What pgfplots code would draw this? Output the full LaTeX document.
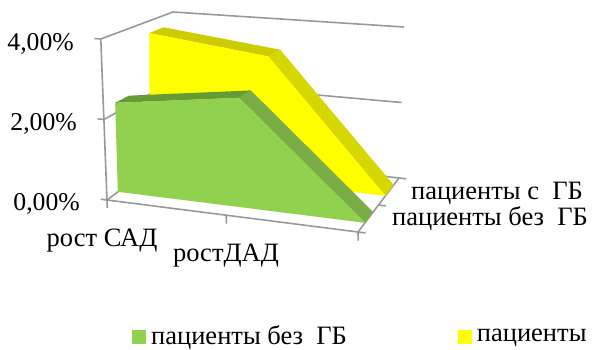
\documentclass[border=0pt]{standalone}
\usepackage{fontspec}
\setmainfont{Liberation Serif}
\usepackage{pgfplots}
\pgfplotsset{compat=1.18}
\definecolor{grn}{HTML}{92D050}
\definecolor{grntop}{HTML}{659A37}
\definecolor{grnside}{HTML}{7AAD45}
\definecolor{yel}{HTML}{FFFF00}
\definecolor{yeltop}{HTML}{CCCC00}
\definecolor{yelside}{HTML}{D6D600}
\definecolor{wall}{HTML}{989898}
% c = category (0,1,2), d = depth in the box (0 front, 1 back), v = value in %
\def\px{107+125.5*\thisrow{c}+\thisrow{d}*(64-11.5*\thisrow{c})+\thisrow{v}*(-1.55+2.05*\thisrow{d}+0.375*\thisrow{c})}
\def\py{200+16*\thisrow{c}-\thisrow{d}*(48+3*\thisrow{c})-\thisrow{v}*(40.25+1.375*\thisrow{c}-5.25*\thisrow{d})}
\pgfplotsset{
  table/persp/.style={x expr=\px, y expr=\py, row sep=\\},
  frame/.style={draw=wall, line width=1.6pt, forget plot},
}
\begin{document}
\begin{tikzpicture}
\path[use as bounding box] (0,0) rectangle (592pt,350pt);
\begin{axis}[
    scale only axis,
    width=592pt,
    height=350pt,
    xmin=0, xmax=592,
    ymin=0, ymax=350,
    y dir=reverse,
    hide axis,
    clip=false,
    legend style={at={(axis cs:132,336)}, anchor=west, draw=none, fill=none,
      font=\fontsize{26.5}{28}\selectfont, inner sep=0pt, legend columns=2,
      /tikz/every odd column/.style={column sep=3pt},
      /tikz/every even column/.style={column sep=109pt}},
    legend cell align=left,
    legend image code/.code={\fill[#1, draw=none] (0pt,-8pt) rectangle (14pt,6pt);},
]
% walls
\addplot[frame] table[persp]{c d v\\ 0 0 4\\ 0 1 4\\ 2 1 4\\};
\addplot[frame] table[persp]{c d v\\ 0 0 2\\ 0 1 2\\ 2 1 2\\};
\addplot[frame] table[persp]{c d v\\ 0 0 0\\ 0 1 0\\ 2 1 0\\};
\addplot[frame] table[persp]{c d v\\ 0 0 0\\ 2 0 0\\ 2 1 0\\};
\addplot[frame] table[persp]{c d v\\ 0 0 0\\ 0 0 4\\};
% ticks
\addplot[frame] table[persp]{c d v\\ 0 0 4\\ -0.05 0 4\\};
\addplot[frame] table[persp]{c d v\\ 0 0 2\\ -0.05 0 2\\};
\addplot[frame] table[persp]{c d v\\ 0 0 0\\ -0.05 0 0\\};
\addplot[frame] table[persp]{c d v\\ 0 0 0\\ 0 0 -0.2\\};
\addplot[frame] table[persp]{c d v\\ 0.95 0 0\\ 0.95 0 -0.2\\};
\addplot[frame] table[persp]{c d v\\ 2 0 0\\ 2 0 -0.2\\};
\addplot[frame] table[persp]{c d v\\ 2 0 0\\ 2.06 0 0\\};
\addplot[frame] table[persp]{c d v\\ 2 0.5 0\\ 2.06 0.5 0\\};
\addplot[frame] table[persp]{c d v\\ 2 1 0\\ 2.06 1 0\\};
% patients with hypertension
\addplot[fill=yeltop, draw=none, forget plot] table[persp]{c d v\\ 0 0.67 3.67\\ 1 0.67 3.29\\ 1 0.87 3.29\\ 0 0.87 3.67\\};
\addplot[fill=yelside, draw=none, forget plot] table[persp]{c d v\\ 1 0.67 3.29\\ 2 0.67 0\\ 2 0.87 0\\ 1 0.87 3.29\\};
\addplot[fill=yel, draw=none, forget plot] table[persp]{c d v\\ 0 0.67 0\\ 0 0.67 3.67\\ 1 0.67 3.29\\ 2 0.67 0\\};
% patients without hypertension
\addplot[fill=grntop, draw=none, forget plot] table[persp]{c d v\\ 0 0.17 2.26\\ 1 0.17 2.69\\ 1 0.37 2.69\\ 0 0.37 2.26\\};
\addplot[fill=grnside, draw=none, forget plot] table[persp]{c d v\\ 1 0.17 2.69\\ 2 0.17 0\\ 2 0.37 0\\ 1 0.37 2.69\\};
\addplot[fill=grn, draw=none, forget plot] table[persp]{c d v\\ 0 0.17 0\\ 0 0.17 2.26\\ 1 0.17 2.69\\ 2 0.17 0\\};
\addlegendimage{fill=grn}
\addlegendentry{пациенты без\ \ ГБ}
\addlegendimage{fill=yel}
\addlegendentry{пациенты}
\begin{scope}[every node/.style={font=\fontsize{26.5}{28}\selectfont, inner sep=0pt}]
\node[anchor=east, font=\fontsize{25.7}{28}\selectfont] at (axis cs:74,44) {4,00\%};
\node[anchor=east, font=\fontsize{25.7}{28}\selectfont] at (axis cs:77,124) {2,00\%};
\node[anchor=east, font=\fontsize{25.7}{28}\selectfont] at (axis cs:80,204) {0,00\%};
\node at (axis cs:102,241) {рост САД};
\node at (axis cs:226,256) {ростДАД};
\node at (axis cs:497,193) {пациенты с\ \ ГБ};
\node at (axis cs:490,219) {пациенты без\ \ ГБ};
\end{scope}
\end{axis}
\end{tikzpicture}
\end{document}
